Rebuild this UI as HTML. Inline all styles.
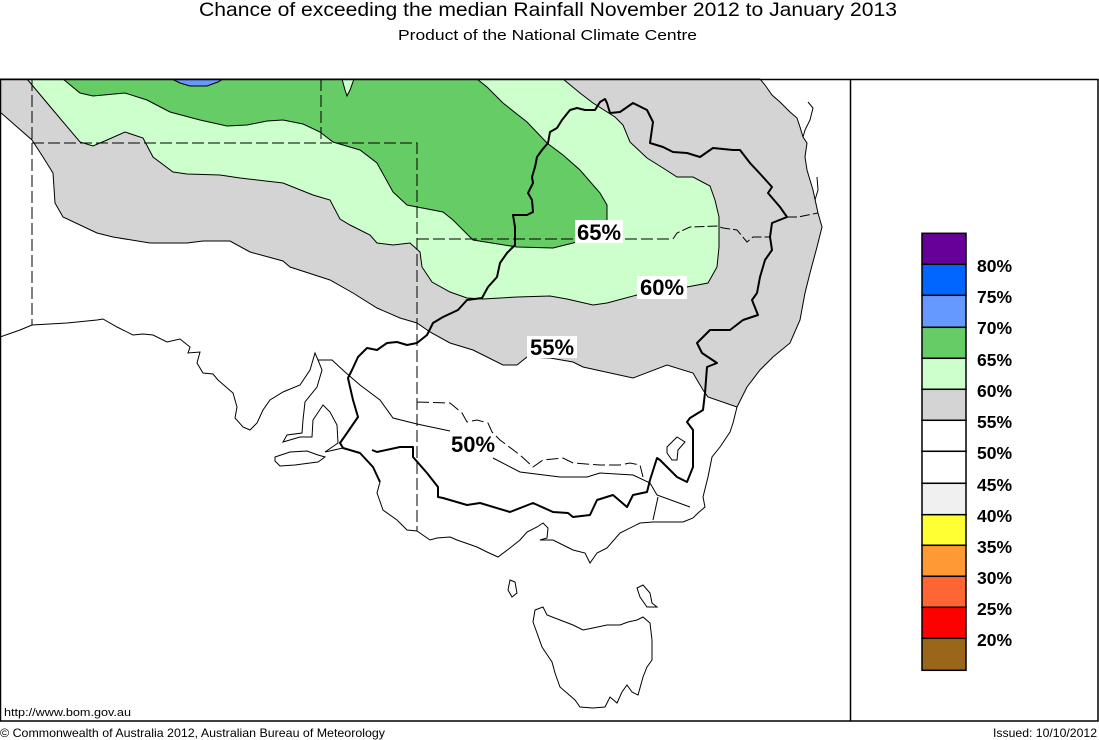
<!DOCTYPE html>
<html><head><meta charset="utf-8"><style>
html,body{margin:0;padding:0;background:#fff;}
svg{display:block;}
text{font-family:"Liberation Sans",Arial,sans-serif;fill:#000;}
</style></head><body>
<svg width="1099" height="740" viewBox="0 0 1099 740" xmlns="http://www.w3.org/2000/svg">
<rect x="0" y="0" width="1099" height="740" fill="#fff"/>
<text x="199" y="16" font-size="19.5" textLength="698" lengthAdjust="spacingAndGlyphs">Chance of exceeding the median Rainfall November 2012 to January 2013</text>
<text x="398" y="40" font-size="15" textLength="299" lengthAdjust="spacingAndGlyphs">Product of the National Climate Centre</text>

<!-- gray 55% -->
<path fill="#d4d4d4" stroke="#000" stroke-width="1" d="M0,79 L760,79 L765,85 L772,95 L780,102 L790,112 L797,118 L800,127 L803,137 L807,143 L805,157 L807,170 L813,190 L818,213 L822,227 L817,247 L810,273 L805,293 L800,320 L790,343 L773,357 L760,370 L747,387 L737,407 L708,397 L703,390 L693,373 L667,365 L633,378 L583,367 L573,362 L550,358 L527,357 L517,365 L503,365 L473,350 L450,343 L430,332 L417,323 L400,318 L377,308 L353,293 L330,280 L290,267 L283,261 L250,252 L230,241 L203,241 L187,243 L150,243 L113,237 L97,233 L63,217 L55,203 L53,173 L43,157 L32,140 L0,112 Z"/>
<!-- light green 60% -->
<path fill="#ccffcc" stroke="#000" stroke-width="1" d="M27,79 L53,110 L80,142 L93,146 L107,140 L125,132 L143,138 L153,157 L173,172 L187,174 L220,175 L240,178 L283,183 L313,195 L330,200 L340,219 L350,225 L370,235 L377,243 L393,245 L410,243 L420,252 L422,267 L432,282 L450,292 L467,298 L483,299 L517,297 L550,296 L567,299 L593,305 L607,303 L637,295 L687,287 L708,283 L717,267 L719,247 L719,217 L715,200 L710,186 L693,177 L677,177 L663,168 L647,158 L630,142 L623,125 L615,117 L593,103 L580,93 L563,79 Z"/>
<!-- green 65% -->
<path fill="#66cc66" stroke="#000" stroke-width="1" d="M63,79 L80,93 L93,96 L125,93 L147,100 L170,112 L200,120 L227,126 L247,125 L267,121 L283,120 L303,124 L320,132 L333,142 L360,150 L377,163 L393,192 L407,205 L443,212 L453,220 L473,240 L517,247 L553,248 L573,243 L600,235 L607,222 L607,205 L600,193 L580,170 L563,155 L547,143 L527,122 L503,103 L487,87 L477,79 Z"/>
<path fill="#6699ff" stroke="#000" stroke-width="1" d="M172,79 L180,83 L190,86 L207,86 L218,82 L223,79 Z"/>
<path fill="#ccffcc" stroke="#000" stroke-width="1" d="M342,79 L345,90 L347,96 L350,90 L354,79 Z"/>

<g fill="none" stroke="#000" stroke-width="1">
<!-- state borders dashed -->
<path stroke-dasharray="12,4" d="M32,79 L32,325 M32,143 L417,143 L417,531 M321,79 L321,143 M417,239 L673,239 M417,402 L450,403 L462,413 L467,422 L477,420 L488,423 L492,432 L500,440 L520,455 L533,467 L543,460 L563,458 L573,463 L600,465 L620,465 L630,463 L640,465 L643,477"/>
<path stroke-dasharray="10,3" d="M673,239 L677,233 L690,227 L717,226 L723,228 L737,230 L747,242 L753,237 L770,237 M787,217 L798,217 L818,213"/>
<!-- SA coast -->
<path d="M0,337 L20,330 L32,325 L67,323 L97,320 L103,319 L117,327 L133,335 L143,334 L153,335 L167,342 L180,339 L190,347 L188,353 L200,352 L197,363 L203,373 L213,374 L218,380 L233,393 L237,407 L235,418 L243,427 L250,430 L257,423 L263,410 L270,400 L283,392 L300,385 L310,370 L315,353 L318,360 L322,370 L317,387 L305,402 L303,420 L302,433 L287,435 L283,442 L300,437 L312,437 L313,420 L323,405 L330,412 L337,425 L338,443 L325,452 L343,448"/>
<path d="M380,482 L377,493 L383,510 L397,520 L407,530 L417,531 L430,540 L437,538 L450,537 L457,540 L477,547 L487,552 L498,557 L510,548 L520,540 L527,532 L537,527 L543,523 L548,528 L547,538 L540,540 L553,540 L563,545 L573,550 L585,553 L590,563 L597,553 L607,548 L620,533 L640,523 L653,522 L683,522 L693,518 L698,513 L705,507 L703,497 L708,477 L712,457 L720,447 L730,432 L733,423 L737,407"/>
<path d="M275,457 L290,452 L307,451 L318,455 L325,457 L318,462 L310,463 L295,465 L280,466 L275,461 Z"/>
<path d="M808,102 L813,108 L810,120 L805,130 L803,137"/>
<path d="M817,177 L818,190 L815,200"/>
<!-- 50% contour and other thin lines -->
<path d="M318,360 L332,360 L345,372 L360,385 L380,400 L393,418 L417,424 L450,431 M493,458 L520,472 L560,477 L587,477 L600,473 L633,475 L650,483 L657,495 L690,507"/>
<path d="M658,497 L653,520"/>
<path d="M667,447 L677,437 L685,442 L678,450 L677,460 L672,460 L667,453 Z"/>
<!-- islands -->
<path d="M510,580 L515,582 L517,593 L512,597 L508,590 Z"/>
<path d="M637,588 L643,585 L650,593 L652,603 L657,607 L647,607 L640,597 Z"/>
<path d="M535,610 L543,607 L547,615 L560,620 L573,625 L583,630 L593,628 L607,625 L620,625 L628,622 L637,620 L643,617 L650,623 L652,640 L652,660 L647,667 L643,677 L640,688 L638,695 L632,692 L627,685 L622,692 L617,703 L610,697 L605,707 L593,708 L580,707 L575,700 L560,687 L555,673 L552,662 L542,647 L537,633 L533,622 Z"/>
</g>
<!-- Murray-Darling basin thick boundary -->
<path fill="none" stroke="#000" stroke-width="2" stroke-linejoin="round" d="M380,482 L373,467 L360,453 L343,448 L340,443 L347,433 L358,417 L353,400 L350,387 L348,378 L352,370 L358,357 L367,348 L377,350 L387,343 L397,342 L407,345 L417,343 L427,335 L433,323 L443,317 L458,310 L467,300 L482,298 L488,287 L497,277 L500,263 L507,253 L515,245 L515,227 L513,215 L527,215 L533,212 L532,200 L528,193 L533,183 L532,177 L535,167 L537,157 L542,150 L548,143 L550,132 L557,128 L562,120 L570,110 L577,108 L585,110 L595,110 L600,102 L605,99 L607,103 L610,113 L620,112 L633,103 L647,110 L653,122 L650,143 L663,147 L673,152 L687,153 L700,157 L713,148 L733,150 L740,150 L750,163 L763,177 L772,187 L768,193 L780,207 L787,217 L772,223 L770,237 L772,250 L765,260 L760,277 L757,293 L752,300 L758,315 L743,320 L730,330 L710,330 L697,343 L702,353 L717,363 L707,367 L705,393 L703,410 L690,418 L687,422 L693,430 L693,467 L687,482 L677,477 L660,460 L657,458 L650,480 L647,492 L633,495 L627,507 L613,495 L597,500 L590,515 L573,517 L568,513 L553,512 L533,503 L510,512 L480,503 L467,505 L443,498 L438,497 L438,487 L427,473 L413,457 L413,447 L400,447 L377,452 L372,450"/>

<!-- contour labels -->
<rect x="575" y="220" width="48" height="23" fill="#fff"/>
<text x="577" y="240" font-size="22" font-weight="bold">65%</text>
<rect x="637" y="276" width="50" height="23" fill="#fff"/>
<text x="640" y="295" font-size="22" font-weight="bold">60%</text>
<rect x="527" y="336" width="50" height="22" fill="#fff"/>
<text x="530" y="355" font-size="22" font-weight="bold">55%</text>
<text x="451" y="452" font-size="22" font-weight="bold">50%</text>

<!-- frame -->
<rect x="0.5" y="79.5" width="1097.5" height="641.5" fill="none" stroke="#000" stroke-width="1.5"/>
<line x1="850.5" y1="79" x2="850.5" y2="721" stroke="#000" stroke-width="1.5"/>

<!-- legend -->
<g stroke="#000" stroke-width="1.5">
<rect x="922" y="233.3" width="44" height="31" fill="#660099"/>
<rect x="922" y="264.3" width="44" height="31" fill="#0066ff"/>
<rect x="922" y="295.3" width="44" height="32" fill="#6699ff"/>
<rect x="922" y="327.3" width="44" height="31" fill="#66cc66"/>
<rect x="922" y="358.3" width="44" height="31" fill="#ccffcc"/>
<rect x="922" y="389.3" width="44" height="31" fill="#d4d4d4"/>
<rect x="922" y="420.3" width="44" height="31" fill="#ffffff"/>
<rect x="922" y="451.3" width="44" height="32" fill="#ffffff"/>
<rect x="922" y="483.3" width="44" height="31.4" fill="#f0f0f0"/>
<rect x="922" y="514.7" width="44" height="30.6" fill="#ffff33"/>
<rect x="922" y="545.3" width="44" height="31" fill="#ff9933"/>
<rect x="922" y="576.3" width="44" height="31" fill="#ff6633"/>
<rect x="922" y="607.3" width="44" height="31" fill="#ff0000"/>
<rect x="922" y="638.3" width="44" height="32" fill="#99661a"/>
</g>
<g font-size="17.5" font-weight="bold">
<text x="977" y="272">80%</text>
<text x="977" y="303">75%</text>
<text x="977" y="334">70%</text>
<text x="977" y="366">65%</text>
<text x="977" y="397">60%</text>
<text x="977" y="428">55%</text>
<text x="977" y="459">50%</text>
<text x="977" y="491">45%</text>
<text x="977" y="522">40%</text>
<text x="977" y="553">35%</text>
<text x="977" y="584">30%</text>
<text x="977" y="615">25%</text>
<text x="977" y="646">20%</text>
</g>

<!-- footer -->
<text x="4" y="716" font-size="11" textLength="127" lengthAdjust="spacingAndGlyphs">http://www.bom.gov.au</text>
<text x="0" y="737" font-size="12" textLength="385" lengthAdjust="spacingAndGlyphs">© Commonwealth of Australia 2012, Australian Bureau of Meteorology</text>
<text x="993" y="737" font-size="12" textLength="104" lengthAdjust="spacingAndGlyphs">Issued: 10/10/2012</text>
</svg>
</body></html>
